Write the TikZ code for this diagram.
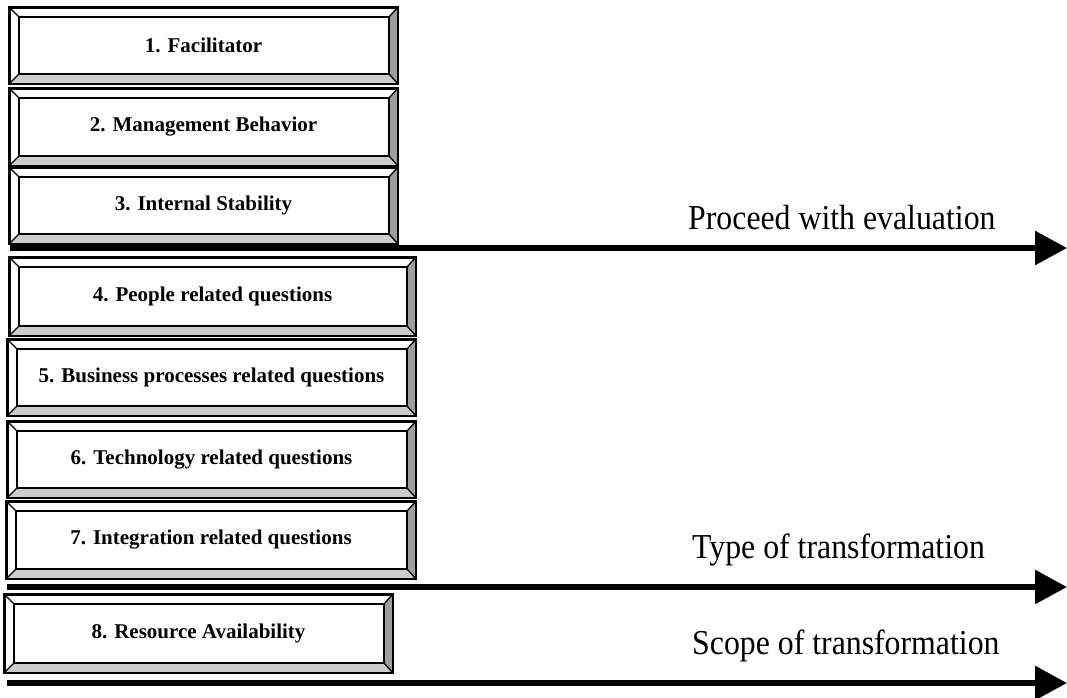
\documentclass[tikz,border=0pt]{standalone}
\usepackage{fontspec}
\setmainfont{Liberation Serif}
\usetikzlibrary{calc,arrows.meta}

\definecolor{bevdark}{gray}{0.62}
\definecolor{bevlight}{gray}{0.80}

\tikzset{
  bbox/.style={draw=black, line width=2pt, fill=white, inner sep=0pt,
    font=\fontsize{21}{24}\selectfont\bfseries},
  bevouter/.style={draw=black, line width=2pt},
  bevinner/.style={draw=black, line width=2.6pt},
  bevedge/.style={draw=black, line width=1.3pt},
  flow/.style={line width=6pt, -{Triangle[length=32pt,width=33pt]}},
  flowlabel/.style={anchor=base west, inner sep=0pt,
    font=\fontsize{31.8}{36}\selectfont}
}

% Bevelled frame around a named rectangular node
\newcommand\bevelframe[1]{%
  \path (#1.north west) coordinate (o1) (#1.north east) coordinate (o2)
        (#1.south east) coordinate (o3) (#1.south west) coordinate (o4);
  \path ($(o1)+(10,10)$) coordinate (i1) ($(o2)+(-9,10)$) coordinate (i2)
        ($(o3)+(-9,-10)$) coordinate (i3) ($(o4)+(10,-10)$) coordinate (i4);
  \fill[bevdark] (o2)--(o3)--(i3)--(i2)--cycle;
  \fill[bevlight] (o3)--(o4)--(i4)--(i3)--cycle;
  \draw[bevedge] (o1)--(i1) (o2)--(i2) (o3)--(i3) (o4)--(i4);
  \draw[bevouter] (o1) rectangle (o3);
  \draw[bevinner] (i1) rectangle (i3);
}
% taller lettering for the arrow captions
\newcommand\tallcaption[1]{\scalebox{1}[1.1]{#1}}

\begin{document}
\begin{tikzpicture}[x=1pt,y=-1pt]
\useasboundingbox (0,0) rectangle (1067,697);

% question blocks
\node[bbox, minimum width=387, minimum height=75] (b1) at (203.5,45.5) {1. Facilitator};
\node[bbox, minimum width=387, minimum height=76] (b2) at (203.5,127) {2. Management Behavior};
\node[bbox, minimum width=387, minimum height=75] (b3) at (203.5,205.5) {3. Internal Stability};
\node[bbox, minimum width=405, minimum height=77] (b4) at (212.5,296.5) {4. People related questions};
\node[bbox, minimum width=407, minimum height=75] (b5) at (211.5,377.5) {5. Business processes related questions};
\node[bbox, minimum width=407, minimum height=75] (b6) at (211.5,459.5) {6. Technology related questions};
\node[bbox, minimum width=408, minimum height=76] (b7) at (211,540) {7. Integration related questions};
\node[bbox, minimum width=387, minimum height=77] (b8) at (198.5,633.5) {8. Resource Availability};

\foreach \n in {b1,b2,b3,b4,b5,b6,b7,b8}{\bevelframe{\n}}

% decision arrows
\coordinate (s1) at (10,248);  \coordinate (e1) at (1067,248);
\coordinate (s2) at (7,587);   \coordinate (e2) at (1067,587);
\coordinate (s3) at (7,683);   \coordinate (e3) at (1067,683);
\draw[flow] (s1) -- (e1);
\draw[flow] (s2) -- (e2);
\draw[flow] (s3) -- (e3);

\node[flowlabel] (l1) at (688,229) {\tallcaption{Proceed with evaluation}};
\node[flowlabel] (l2) at (692,558) {\tallcaption{Type of transformation}};
\node[flowlabel] (l3) at (692,654) {\tallcaption{Scope of transformation}};
\end{tikzpicture}
\end{document}
